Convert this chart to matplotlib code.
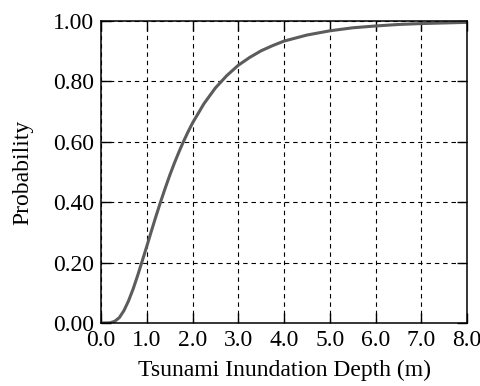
import matplotlib
matplotlib.use('Agg')
import matplotlib.pyplot as plt

# depth (m) vs. probability
depth = [0.0, 0.2, 0.3, 0.4, 0.5, 0.6, 0.7, 0.8, 0.9, 1.0, 1.1, 1.2, 1.3, 1.4, 1.5,
         1.6, 1.7, 1.8, 1.9, 2.0, 2.25, 2.5, 2.75, 3.0, 3.25, 3.5, 3.75, 4.0,
         4.5, 5.0, 5.5, 6.0, 6.5, 7.0, 7.5, 8.0]
prob = [0.0, 0.001, 0.006, 0.018, 0.041, 0.073, 0.112, 0.157, 0.205, 0.254, 0.304,
        0.353, 0.400, 0.445, 0.488, 0.528, 0.565, 0.600, 0.632, 0.662, 0.726,
        0.778, 0.819, 0.853, 0.879, 0.901, 0.918, 0.933, 0.953, 0.967, 0.977,
        0.983, 0.988, 0.991, 0.993, 0.995]

xticks = [0, 1, 2, 3, 4, 5, 6, 7, 8]
yticks = [0.0, 0.2, 0.4, 0.6, 0.8, 1.0]

plt.rcParams['font.family'] = ['Liberation Serif', 'DejaVu Serif']

fig = plt.figure(figsize=(4.81, 3.86), dpi=100)
ax = fig.add_axes([0.21, 0.163, 0.761, 0.783])

ax.plot(depth, prob, color='#5c5c5c', linewidth=2.2, solid_capstyle='round')

ax.set_xlim(0, 8)
ax.set_ylim(0, 1)
ax.set_xticks(xticks)
ax.set_xticklabels(['%.1f' % v for v in xticks])
ax.set_yticks(yticks)
ax.set_yticklabels(['%.2f' % v for v in yticks])

ax.grid(True, color='black', linestyle=(0, (4, 3.5)), linewidth=0.8)
ax.tick_params(direction='in', length=7, width=1, labelsize=17, pad=5,
               top=True, right=True)
for s in ax.spines.values():
    s.set_linewidth(1.1)

ax.set_xlabel('Tsunami Inundation Depth (m)', fontsize=17, labelpad=6)
ax.set_ylabel('Probability', fontsize=17, labelpad=14)

fig.savefig('out.png', dpi=100)
